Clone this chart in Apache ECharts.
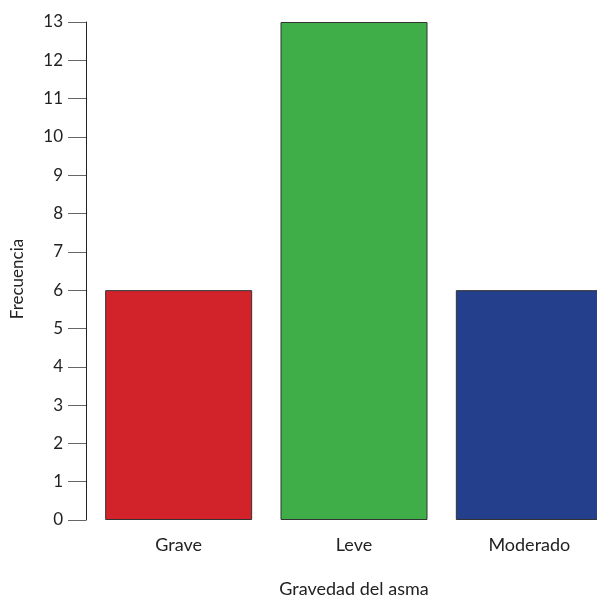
<!DOCTYPE html>
<html><head><meta charset="utf-8">
<script src="https://cdn.jsdelivr.net/npm/echarts@6/dist/echarts.min.js"></script>
<style>html,body{margin:0;padding:0;background:#fff}#c{width:597px;height:596px}</style>
</head><body><div id="c"></div>
<script>
const categories = ["Grave", "Leve", "Moderado"];
const values = [6, 13, 6];
const barColors = ["#d2232a", "#3fae49", "#243f8c"];
const yTicks = [0,1,2,3,4,5,6,7,8,9,10,11,12,13];
const xName = "Gravedad del asma";
const yName = "Frecuencia";

const font = "Lato, 'Open Sans', sans-serif";
const chart = echarts.init(document.getElementById('c'), null, {renderer:'canvas'});
chart.setOption({
  animation:false,
  grid:{left:91, width:526, top:22, height:498, containLabel:false, outerBoundsMode:'none'},
  xAxis:{
    type:'category', data:categories, boundaryGap:true,
    axisLine:{show:false}, axisTick:{show:false},
    axisLabel:{color:'#222', fontSize:18, fontFamily:font, margin:16},
    name:xName, nameLocation:'middle', nameGap:60,
    nameTextStyle:{color:'#222', fontSize:18, fontFamily:font}
  },
  yAxis:{
    type:'value', min:0, max:13, interval:1, offset:5,
    splitLine:{show:false},
    axisLine:{show:true, lineStyle:{color:'#222', width:1}},
    axisTick:{show:true, length:18, lineStyle:{color:'#666', width:1}},
    axisLabel:{color:'#222', fontSize:17, fontFamily:font, margin:23,
      formatter:(v)=> yTicks.includes(v) ? String(v) : ''},
    name:yName, nameLocation:'middle', nameGap:60,
    nameTextStyle:{color:'#222', fontSize:17, fontFamily:font, padding:[0,0,0,-16]}
  },
  series:[{
    type:'bar', barWidth:147,
    data: values.map((v,i)=>({value:v, itemStyle:{color:barColors[i]}})),
    itemStyle:{borderColor:'#333', borderWidth:1}
  }]
});
</script></body></html>
